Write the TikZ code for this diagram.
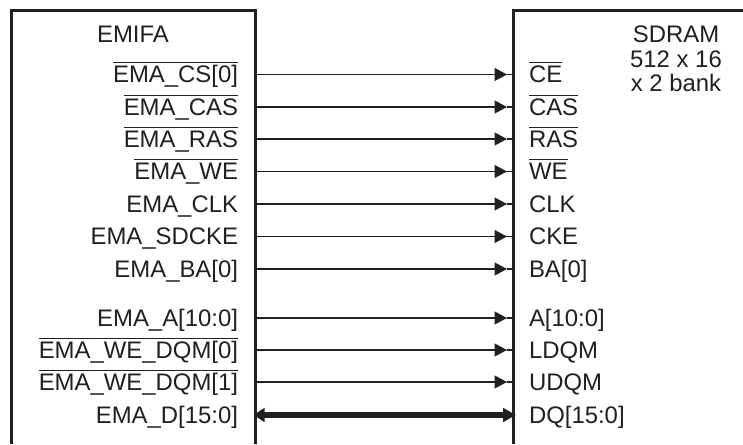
\documentclass[tikz,border=0pt]{standalone}
\usepackage{fontspec}
\setmainfont{Liberation Sans}
\usetikzlibrary{arrows.meta}
\definecolor{ink}{HTML}{231F20}
\newcommand{\ovl}[1]{\vbox{\hrule height 1.4pt\hbox{\vrule height 19.4pt width 0pt #1}}}
\tikzset{
  x=1pt,y=-1pt,
  every node/.style={inner sep=0pt,outer sep=0pt,text=ink,font=\fontsize{23.9}{27}\selectfont},
  chip/.style={draw=ink,line width=3pt,line join=miter},
  lbl/.style={anchor=base east},
  rbl/.style={anchor=base west},
  title/.style={anchor=base},
  sig/.style={draw=ink,line width=1.2pt},
  sighead/.style={sig,-{Triangle[length=12.5pt,width=13pt]}},
  bus/.style={draw=ink,line width=5.5pt,{Triangle[length=11pt,width=13.5pt]}-{Triangle[length=13pt,width=13.5pt]}}
}
\begin{document}
\begin{tikzpicture}
\useasboundingbox (0,0) rectangle (743,444);
\fill[white] (0,0) rectangle (743,444);
\draw[chip] (11.3,444) -- (11.3,10.5) -- (255,10.5) -- (255,444);
\draw[chip] (513.5,444) -- (513.5,10.5) -- (743,10.5);
\node[title] (emifa) at (133,42.7) {EMIFA};
\node[title] (sd1) at (676,42.7) {SDRAM};
\node[title] (sd2) at (676,67) {512 x 16};
\node[title] (sd3) at (676,91) {x 2 bank};
\foreach \n/\y/\a/\b in {
  1/74.5/\ovl{EMA\_CS[0]}/\ovl{CE},
  2/107/\ovl{EMA\_CAS}/\ovl{CAS},
  3/139/\ovl{EMA\_RAS}/\ovl{RAS},
  4/171.5/\ovl{EMA\_WE}/\ovl{WE},
  5/204/EMA\_CLK/CLK,
  6/236.5/EMA\_SDCKE/CKE,
  7/269/EMA\_BA[0]/BA[0],
  8/318/EMA\_A[10:0]/A[10:0],
  9/350/\ovl{EMA\_WE\_DQM[0]}/LDQM,
  10/382/\ovl{EMA\_WE\_DQM[1]}/UDQM}{
  \node[lbl] (a\n) at (238,\y+8.3) {\a};
  \node[rbl] (b\n) at (529,\y+8.3) {\b};
  \coordinate (s\n) at (255,\y);
  \coordinate (h\n) at (507,\y);
  \coordinate (e\n) at (513.5,\y);
  \draw[sighead] (s\n) -- (h\n);
  \draw[sig] (h\n) -- (e\n);
}
\node[lbl] (a11) at (238,423.3) {EMA\_D[15:0]};
\node[rbl] (b11) at (529,423.3) {DQ[15:0]};
\coordinate (s11) at (253.5,415);
\coordinate (e11) at (516,415);
\draw[bus] (s11) -- (e11);
\end{tikzpicture}
\end{document}
